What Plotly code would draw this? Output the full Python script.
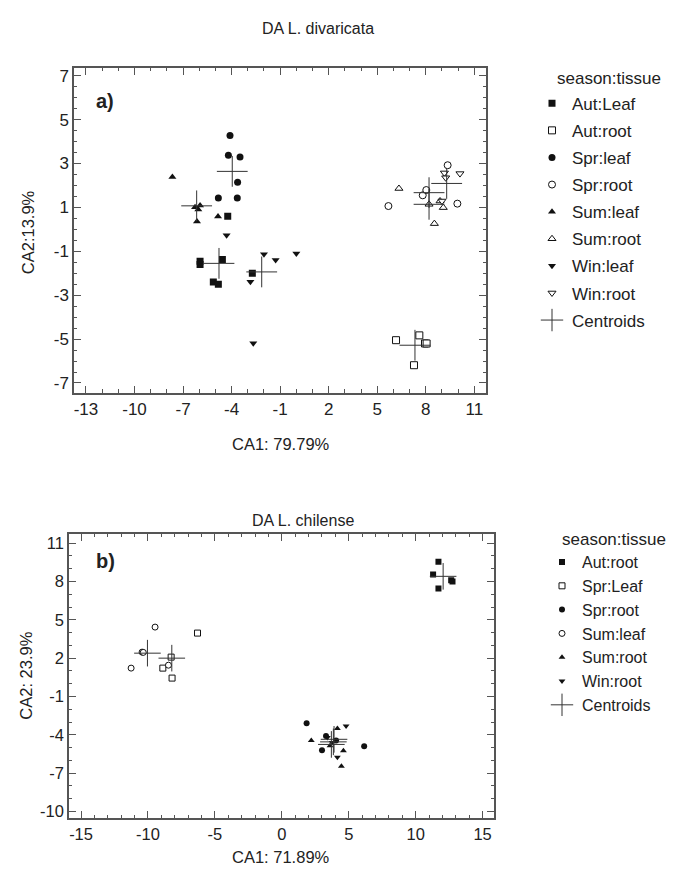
import plotly.graph_objects as go

# ---------------- Panel a) DA L. divaricata ----------------
a_groups = ["Aut:Leaf", "Aut:root", "Spr:leaf", "Spr:root", "Sum:leaf", "Sum:root", "Win:leaf", "Win:root"]

a_aut_leaf_x = [-4.24, -5.95, -5.95, -4.57, -5.13, -4.82, -2.72]
a_aut_leaf_y = [0.6, -1.45, -1.6, -1.37, -2.4, -2.5, -2.0]
a_aut_root_x = [6.16, 7.6, 7.95, 8.05, 7.27]
a_aut_root_y = [-5.05, -4.83, -5.2, -5.2, -6.19]
a_spr_leaf_x = [-4.1, -4.2, -3.48, -3.63, -3.65, -4.82]
a_spr_leaf_y = [4.28, 3.37, 3.3, 2.14, 1.43, 1.43]
a_spr_root_x = [5.69, 7.81, 8.03, 9.35, 9.95]
a_spr_root_y = [1.06, 1.55, 1.79, 2.92, 1.17]
a_sum_leaf_x = [-7.66, -6.26, -5.95, -6.06, -6.14, -4.84]
a_sum_leaf_y = [2.38, 1.01, 1.09, 0.9, 0.36, 0.59]
a_sum_root_x = [6.34, 8.53, 8.88, 9.08, 8.2]
a_sum_root_y = [1.86, 0.26, 1.29, 0.99, 1.14]
a_win_leaf_x = [-4.31, -2.0, -1.28, -2.84, -2.66, 0.0]
a_win_leaf_y = [-0.27, -1.13, -1.4, -2.39, -5.19, -1.1]
a_win_root_x = [9.15, 10.11, 9.23, 9.0]
a_win_root_y = [2.57, 2.54, 2.35, 1.29]

a_centroid_x = [-4.78, 7.33, -3.96, 8.2, -6.16, 8.2, -2.14, 9.29]
a_centroid_y = [-1.55, -5.28, 2.64, 1.67, 1.07, 1.14, -1.94, 2.09]

a_xticks = [-13, -10, -7, -4, -1, 2, 5, 8, 11]
a_xticklabels = ["-13", "-10", "-7", "-4", "-1", "2", "5", "8", "11"]
a_yticks = [-7, -5, -3, -1, 1, 3, 5, 7]
a_yticklabels = ["-7", "-5", "-3", "-1", "1", "3", "5", "7"]

# ---------------- Panel b) DA L. chilense ----------------
b_groups = ["Aut:root", "Spr:Leaf", "Spr:root", "Sum:leaf", "Sum:root", "Win:root"]

b_aut_root_x = [11.7, 11.3, 11.7, 12.65, 12.75]
b_aut_root_y = [9.55, 8.55, 7.45, 8.1, 8.0]
b_spr_leaf_x = [-6.3, -8.27, -8.89, -8.2]
b_spr_leaf_y = [3.96, 2.08, 1.22, 0.44]
b_spr_root_x = [1.85, 3.3, 4.05, 3.0, 6.15]
b_spr_root_y = [-3.1, -4.1, -4.45, -5.2, -4.9]
b_sum_leaf_x = [-9.47, -10.44, -10.35, -11.26, -8.47]
b_sum_leaf_y = [4.43, 2.47, 2.45, 1.22, 1.45]
b_sum_root_x = [2.2, 4.15, 4.6, 4.45, 3.6]
b_sum_root_y = [-4.45, -3.5, -5.25, -6.45, -4.85]
b_win_root_x = [4.8, 4.15, 3.4, 3.75]
b_win_root_y = [-3.3, -5.75, -4.2, -4.6]

b_centroid_x = [12.05, -8.22, 3.9, -10.04, 3.7, 3.85]
b_centroid_y = [8.4, 2.0, -4.35, 2.39, -4.75, -4.55]

b_xticks = [-15, -10, -5, 0, 5, 10, 15]
b_xticklabels = ["-15", "-10", "-5", "0", "5", "10", "15"]
b_yticks = [-10, -7, -4, -1, 2, 5, 8, 11]
b_yticklabels = ["-10", "-7", "-4", "-1", "2", "5", "8", "11"]

# ---------------- styling ----------------
INK = "#111111"
AX = "#555555"
TXT = "#222222"
FONT = "Arial, Liberation Sans, sans-serif"
W, H = 673, 872

fig = go.Figure()


def add_points(name, xs, ys, symbol, filled, xa, ya, leg, size, group):
    fig.add_trace(go.Scatter(
        x=xs, y=ys, mode="markers", name=name,
        xaxis=xa, yaxis=ya, legend=leg, legendgroup=group,
        marker=dict(symbol=symbol, size=size,
                    color=INK if filled else "white",
                    line=dict(color=INK, width=0 if filled else 1)),
    ))


a_data = [
    (a_aut_leaf_x, a_aut_leaf_y, "square", True),
    (a_aut_root_x, a_aut_root_y, "square", False),
    (a_spr_leaf_x, a_spr_leaf_y, "circle", True),
    (a_spr_root_x, a_spr_root_y, "circle", False),
    (a_sum_leaf_x, a_sum_leaf_y, "triangle-up", True),
    (a_sum_root_x, a_sum_root_y, "triangle-up", False),
    (a_win_leaf_x, a_win_leaf_y, "triangle-down", True),
    (a_win_root_x, a_win_root_y, "triangle-down", False),
]
for i, (name, (xs, ys, sym, fill)) in enumerate(zip(a_groups, a_data)):
    add_points(name, xs, ys, sym, fill, "x", "y", "legend", 7, "a%d" % i)

fig.add_trace(go.Scatter(
    x=a_centroid_x, y=a_centroid_y, mode="markers", name="Centroids",
    xaxis="x", yaxis="y", legend="legend", legendgroup="aC",
    marker=dict(symbol="cross-thin", size=22, color="#333333",
                line=dict(color="#333333", width=1)),
))

b_data = [
    (b_aut_root_x, b_aut_root_y, "square", True),
    (b_spr_leaf_x, b_spr_leaf_y, "square", False),
    (b_spr_root_x, b_spr_root_y, "circle", True),
    (b_sum_leaf_x, b_sum_leaf_y, "circle", False),
    (b_sum_root_x, b_sum_root_y, "triangle-up", True),
    (b_win_root_x, b_win_root_y, "triangle-down", True),
]
for name, (xs, ys, sym, fill) in zip(b_groups, b_data):
    add_points(name, xs, ys, sym, fill, "x2", "y2", "legend2", 6, "b")

fig.add_trace(go.Scatter(
    x=b_centroid_x, y=b_centroid_y, mode="markers", name="Centroids",
    xaxis="x2", yaxis="y2", legend="legend2", legendgroup="b",
    marker=dict(symbol="cross-thin", size=19, color="#333333",
                line=dict(color="#333333", width=1)),
))


def axis(tickvals, ticktext, rng, minor_dtick, minor_tick0, domain, anchor, size):
    return dict(
        domain=domain, anchor=anchor, range=rng,
        tickmode="array", tickvals=tickvals, ticktext=ticktext,
        showline=True, linecolor=AX, linewidth=1.5, mirror="allticks",
        ticks="inside", ticklen=7, tickwidth=1, tickcolor=AX,
        minor=dict(ticks="inside", ticklen=3.5, tickcolor=AX, tickwidth=1,
                   dtick=minor_dtick, tick0=minor_tick0),
        showgrid=False, zeroline=False,
        tickfont=dict(family=FONT, size=size, color=TXT),
    )


def ann(text, x, y, size, angle=0, xanchor="center", bold=False):
    return dict(text="<b>%s</b>" % text if bold else text,
                x=x / W, y=1 - y / H, xref="paper", yref="paper",
                xanchor=xanchor, yanchor="middle", textangle=angle, showarrow=False,
                font=dict(family=FONT, size=size, color=TXT))


fig.update_layout(
    width=W, height=H, paper_bgcolor="white", plot_bgcolor="white",
    margin=dict(l=0, r=0, t=0, b=0),
    font=dict(family=FONT, color=TXT),
    xaxis=axis(a_xticks, a_xticklabels, [-13.74, 11.72], 1, -13, [74 / W, 486 / W], "y", 17),
    yaxis=axis(a_yticks, a_yticklabels, [-7.44, 7.36], 0.5, -7, [1 - 393 / H, 1 - 67 / H], "x", 17),
    xaxis2=axis(b_xticks, b_xticklabels, [-15.9, 15.85], 1, -15, [69 / W, 494 / W], "y2", 16.5),
    yaxis2=axis(b_yticks, b_yticklabels, [-10.52, 11.7], 1, -10, [1 - 820 / H, 1 - 535 / H], "x2", 16.5),
    legend=dict(x=532 / W, y=1 - 85 / H, xanchor="left", yanchor="top",
                font=dict(family=FONT, size=17, color=TXT),
                tracegroupgap=2, itemsizing="trace", bgcolor="rgba(0,0,0,0)"),
    legend2=dict(x=542 / W, y=1 - 546 / H, xanchor="left", yanchor="top",
                 font=dict(family=FONT, size=16, color=TXT),
                 tracegroupgap=0, itemsizing="trace", bgcolor="rgba(0,0,0,0)"),
    showlegend=True,
    annotations=[
        ann("DA L. divaricata", 318, 28, 16),
        ann("DA L. chilense", 303, 521, 16),
        ann("a)", 94, 100, 20, xanchor="left", bold=True),
        ann("b)", 94, 562, 20, xanchor="left", bold=True),
        ann("CA1: 79.79%", 281, 445, 16.5),
        ann("CA2:13.9%", 28, 232, 16.5, angle=-90),
        ann("CA1: 71.89%", 281, 859, 16.5),
        ann("CA2: 23.9%", 26, 677, 16.5, angle=-90),
        ann("season:tissue", 555, 78, 17, xanchor="left"),
        ann("season:tissue", 560, 540, 17, xanchor="left"),
    ],
)

fig.write_html(
    "out.html",
    config={"displayModeBar": False},
    post_script="document.body.style.margin='0';document.body.style.padding='0';"
                "document.documentElement.style.overflow='hidden';",
)
